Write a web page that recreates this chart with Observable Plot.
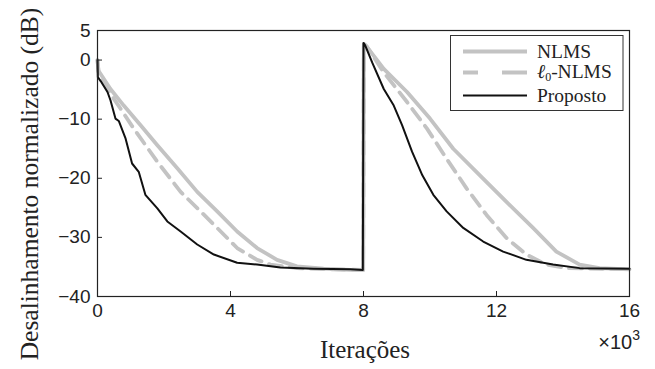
<!DOCTYPE html>
<html>
<head>
<meta charset="utf-8">
<script src="https://cdn.jsdelivr.net/npm/d3@7"></script>
<script src="https://cdn.jsdelivr.net/npm/@observablehq/plot@0.6"></script>
<style>
  body { margin: 0; background: white; }
  #wrap { position: relative; width: 655px; height: 369px; }
  #wrap svg.over { position: absolute; left: 0; top: 0; pointer-events: none; }
  .serif { font-family: "Liberation Serif", "Times New Roman", serif; }
  .sans { font-family: "Liberation Sans", Arial, sans-serif; }
</style>
</head>
<body>
<div id="wrap"></div>
<script>
// x in thousands of iterations, y in dB
const xTicks = [0, 4, 8, 12, 16];
const yTicks = [5, 0, -10, -20, -30, -40];
const seriesNames = ["NLMS", "ℓ0-NLMS", "Proposto"];

const nlmsX = [0, 0.03, 0.39, 0.79, 1.29, 1.8, 2.4, 3.0, 3.6, 4.2, 4.8, 5.4, 6.0, 6.8, 7.6, 7.99,
               8.01, 8.05, 8.61, 9.31, 10.0, 10.7, 11.5, 12.3, 13.1, 13.8, 14.5, 15.1, 16];
const nlmsY = [0, -1.8, -4.9, -7.7, -11, -14.4, -18.3, -22.3, -25.6, -29, -31.8, -33.8, -34.9, -35.3, -35.5, -35.5,
               2.7, 2.6, -1.5, -5.4, -9.9, -15, -19.5, -24, -28.4, -32.4, -34.6, -35.2, -35.4];

const l0X = [0, 0.03, 0.39, 0.69, 1.09, 1.8, 2.5, 3.1, 3.6, 4.2, 4.8, 5.2, 6.0, 7.0, 7.99,
             8.01, 8.1, 8.61, 9.31, 9.91, 10.5, 11.1, 11.7, 12.3, 12.9, 13.5, 14.1, 16];
const l0Y = [0, -2, -5.7, -8.2, -11.6, -17.2, -22.3, -25.6, -28.4, -31.8, -33.8, -34.6, -35.2, -35.4, -35.5,
             2.4, 2.3, -2.1, -7.1, -11.6, -16.7, -21.7, -26.2, -30.1, -32.9, -34.6, -35.2, -35.4];

const propX = [0, 0.01, 0.1, 0.3, 0.39, 0.54, 0.64, 0.84, 1.04, 1.24, 1.44, 1.8, 2.1, 2.5, 3.0, 3.5, 4.2, 4.8, 5.5, 6.5, 7.6, 7.98,
               8.0, 8.05, 8.26, 8.61, 8.91, 9.16, 9.46, 9.77, 10.1, 10.5, 11.0, 11.6, 12.2, 12.9, 13.7, 14.5, 16];
const propY = [0, -2.9, -3.6, -5.4, -6.8, -9.9, -10.3, -13.2, -17.5, -18.9, -22.8, -25.1, -27.3, -29, -31.2, -32.9, -34.3, -34.6, -35.1, -35.3, -35.4, -35.5,
               2.9, 2.5, -0.4, -4.9, -7.7, -11, -15.5, -19.5, -22.8, -25.6, -28.4, -30.7, -32.4, -33.8, -34.6, -35.2, -35.3];

const toRows = (xs, ys) => xs.map((x, i) => ({x, y: ys[i]}));
const nlms = toRows(nlmsX, nlmsY);
const l0 = toRows(l0X, l0Y);
const prop = toRows(propX, propY);

const gray = "#c3c3c3";

const chart = Plot.plot({
  width: 655,
  height: 369,
  marginLeft: 97,
  marginRight: 26,
  marginTop: 30,
  marginBottom: 73,
  x: {domain: [0, 16]},
  y: {domain: [-40, 5]},
  style: {fontFamily: "'Liberation Sans', Arial, sans-serif", fontSize: "19px", color: "#222", background: "white"},
  marks: [
    Plot.line(nlms, {x: "x", y: "y", stroke: gray, strokeWidth: 3.8}),
    Plot.line(l0, {x: "x", y: "y", stroke: gray, strokeWidth: 3.8, strokeDasharray: "13,8"}),
    Plot.line(prop, {x: "x", y: "y", stroke: "#111", strokeWidth: 2}),
    Plot.frame({stroke: "#222", strokeWidth: 1.2}),
    Plot.axisX({ticks: xTicks, tickSize: -5, tickPadding: 12, label: null, fontSize: 19, stroke: "#222"}),
    Plot.axisY({ticks: yTicks, tickSize: -5, tickPadding: 12, label: null, fontSize: 19, stroke: "#222"})
  ]
});

const wrap = document.getElementById("wrap");
wrap.appendChild(chart);

const ns = "http://www.w3.org/2000/svg";
const over = document.createElementNS(ns, "svg");
over.setAttribute("class", "over");
over.setAttribute("width", 655);
over.setAttribute("height", 369);
over.innerHTML = `
  <text class="serif" transform="translate(38,184) rotate(-90)" text-anchor="middle" style="font-size:25.5px" fill="#222">Desalinhamento normalizado (dB)</text>
  <text class="serif" x="365" y="358" text-anchor="middle" style="font-size:25px" fill="#222">Iterações</text>
  <text class="sans" x="640" y="349" text-anchor="end" style="font-size:20px" fill="#222">×10<tspan dy="-9" style="font-size:14px">3</tspan></text>
  <rect x="450.5" y="35.5" width="172.5" height="75" fill="white" stroke="#333" stroke-width="1"/>
  <line x1="463" x2="527" y1="51.5" y2="51.5" stroke="${gray}" stroke-width="4"/>
  <line x1="463" x2="527" y1="72.5" y2="72.5" stroke="${gray}" stroke-width="4" stroke-dasharray="15,24,26"/>
  <line x1="463" x2="527" y1="95.5" y2="95.5" stroke="#111" stroke-width="2"/>
  <g class="serif" style="font-size:19.5px" fill="#222">
    <text x="537" y="58">${seriesNames[0]}</text>
    <text x="537" y="78"><tspan style="font-style:italic">ℓ</tspan><tspan style="font-size:12px" dy="3">0</tspan><tspan dy="-3">-NLMS</tspan></text>
    <text x="537" y="102">${seriesNames[2]}</text>
  </g>
`;
wrap.appendChild(over);
</script>
</body>
</html>
